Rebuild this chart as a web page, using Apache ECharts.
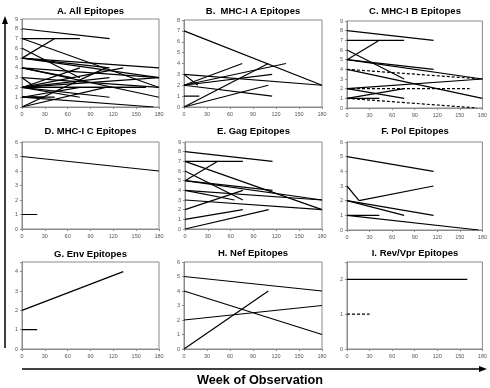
<!DOCTYPE html>
<html>
<head>
<meta charset="utf-8">
<script src="https://cdn.jsdelivr.net/npm/echarts@6/dist/echarts.min.js"></script>
<style>
  html, body { margin: 0; padding: 0; background: #fff; }
  #chart { width: 490px; height: 388px; }
</style>
</head>
<body>
<div id="chart"></div>
<script>
// each segment: [startWeek, startCount, endWeek, endCount]
const segA = [
  [0, 8, 115, 7], [0, 7, 76, 7], [0, 5, 43, 7], [0, 7, 180, 2], [0, 6, 76, 3],
  [0, 5, 115, 4], [0, 5, 180, 3], [0, 5, 180, 4], [0, 4, 180, 3], [0, 4, 180, 1],
  [0, 4, 65, 3], [0, 3, 180, 2], [0, 3, 18, 2], [0, 2, 76, 4], [0, 2, 133, 4],
  [0, 2, 115, 3], [0, 2, 115, 1], [0, 2, 180, 3], [0, 2, 163, 2], [0, 2, 160, 2],
  [0, 2, 76, 1], [0, 1, 76, 2], [0, 1, 43, 1], [0, 1, 20, 1], [0, 1, 30, 1],
  [0, 1, 173, 0], [0, 0, 110, 4], [0, 0, 110, 2]
]
const dashA = []

const segB = [
  [0, 7, 180, 2], [0, 3, 180, 2], [0, 3, 18, 2], [0, 2, 76, 4], [0, 2, 133, 4],
  [0, 2, 115, 3], [0, 2, 115, 1], [0, 1, 20, 1], [0, 0, 110, 4], [0, 0, 110, 2]
]
const dashB = []

const segC = [
  [0, 8, 115, 7], [0, 7, 76, 7], [0, 5, 43, 7], [0, 6, 76, 3], [0, 5, 115, 4],
  [0, 5, 180, 3], [0, 4, 180, 1], [0, 2, 180, 3], [0, 2, 76, 1], [0, 1, 76, 2],
  [0, 1, 43, 1]
]
const dashC = [[0, 4, 180, 3], [0, 2, 163, 2], [0, 1, 173, 0]]

const segD = [[0, 5, 180, 4], [0, 1, 20, 1]]
const dashD = []

const segE = [
  [0, 8, 115, 7], [0, 7, 76, 7], [0, 5, 43, 7], [0, 7, 180, 2], [0, 6, 76, 3],
  [0, 5, 180, 3], [0, 5, 115, 4], [0, 4, 180, 3], [0, 4, 65, 3], [0, 3, 180, 2],
  [0, 2, 76, 4], [0, 1, 76, 2], [0, 0, 110, 2]
]
const dashE = []

const segF = [
  [0, 5, 115, 4], [0, 3, 16, 2], [16, 2, 115, 3], [0, 2, 115, 1], [0, 2, 76, 1],
  [0, 1, 43, 1], [0, 1, 175, 0]
]
const dashF = []

const segG = [[0, 2, 133, 4], [0, 1, 20, 1]]
const dashG = []

const segH = [[0, 5, 180, 4], [0, 4, 180, 1], [0, 2, 180, 3], [0, 0, 110, 4]]
const dashH = []

const segI = [[0, 2, 160, 2]]
const dashI = [[0, 1, 30, 1]]

const titles = [
  'A. All Epitopes', 'B.  MHC-I A Epitopes', 'C. MHC-I B Epitopes',
  'D. MHC-I C Epitopes', 'E. Gag Epitopes', 'F. Pol Epitopes',
  'G. Env Epitopes', 'H. Nef Epitopes', 'I. Rev/Vpr Epitopes'
]
const yMax = [9, 8, 9, 6, 9, 6, 4.5, 6, 2.5]
const xMax = 180
const xStep = 30
const xLabel = 'Week of Observation'

const solid = [segA, segB, segC, segD, segE, segF, segG, segH, segI]
const dashed = [dashA, dashB, dashC, dashD, dashE, dashF, dashG, dashH, dashI]

// plot-area boxes [left, top, width, height]
const boxes = [
  [22, 19, 137, 88], [184, 20, 138, 87], [347, 21, 136, 87],
  [22, 142, 137, 87], [185, 142, 137, 87], [347, 142, 136, 88],
  [22, 262, 137, 87], [184, 262, 138, 87], [347, 262, 136, 87]
]
const titleY = [11, 11, 11, 131, 131, 131, 254, 253, 253]

const grid = [], xAxis = [], yAxis = [], series = [], graphic = []
const labelStyle = { fontSize: 5.5, color: '#555', fontFamily: 'Liberation Sans' }

boxes.forEach((b, i) => {
  grid.push({
    left: b[0], top: b[1], width: b[2], height: b[3],
    show: true, borderColor: '#8a8a8a', borderWidth: 1, backgroundColor: '#fff'
  })
  xAxis.push({
    gridIndex: i, type: 'value', min: 0, max: xMax, interval: xStep,
    axisLine: { lineStyle: { color: '#8a8a8a' } },
    axisTick: { show: true, length: 2, lineStyle: { color: '#8a8a8a' } },
    axisLabel: Object.assign({ margin: 4 }, labelStyle),
    splitLine: { show: false }
  })
  yAxis.push({
    gridIndex: i, type: 'value', min: 0, max: yMax[i], interval: 1,
    axisLine: { show: true, lineStyle: { color: '#8a8a8a' } },
    axisTick: { show: true, length: 2, lineStyle: { color: '#8a8a8a' } },
    axisLabel: Object.assign({
      margin: 4,
      formatter: v => (Number.isInteger(v) ? String(v) : '')
    }, labelStyle),
    splitLine: { show: false }
  })
  const add = (s, type) => series.push({
    type: 'line', xAxisIndex: i, yAxisIndex: i,
    data: [[s[0], s[1]], [s[2], s[3]]],
    symbol: 'none', silent: true,
    lineStyle: { color: '#000', width: 1.2, type: type }
  })
  solid[i].forEach(s => add(s, 'solid'))
  dashed[i].forEach(s => add(s, [3, 2]))
  graphic.push({
    type: 'text', x: b[0] + b[2] / 2, y: titleY[i],
    style: {
      text: titles[i], fill: '#000', align: 'center', verticalAlign: 'middle',
      font: 'bold 9.5px "Liberation Sans", Arial, sans-serif'
    }
  })
})

// big axis arrows and the shared x label
graphic.push(
  { type: 'line', shape: { x1: 5, y1: 348, x2: 5, y2: 22 }, style: { stroke: '#000', lineWidth: 1.5 } },
  { type: 'polygon', shape: { points: [[5, 16], [2, 24], [8, 24]] }, style: { fill: '#000' } },
  { type: 'line', shape: { x1: 22, y1: 369, x2: 481, y2: 369 }, style: { stroke: '#000', lineWidth: 1.5 } },
  { type: 'polygon', shape: { points: [[487, 369], [479, 366], [479, 372]] }, style: { fill: '#000' } },
  {
    type: 'text', x: 260, y: 380,
    style: {
      text: xLabel, fill: '#000', align: 'center', verticalAlign: 'middle',
      font: 'bold 12.7px "Liberation Sans", Arial, sans-serif'
    }
  }
)

const chart = echarts.init(document.getElementById('chart'), null, { renderer: 'canvas' })
chart.setOption({
  animation: false,
  backgroundColor: '#fff',
  grid, xAxis, yAxis, series, graphic
})
</script>
</body>
</html>
